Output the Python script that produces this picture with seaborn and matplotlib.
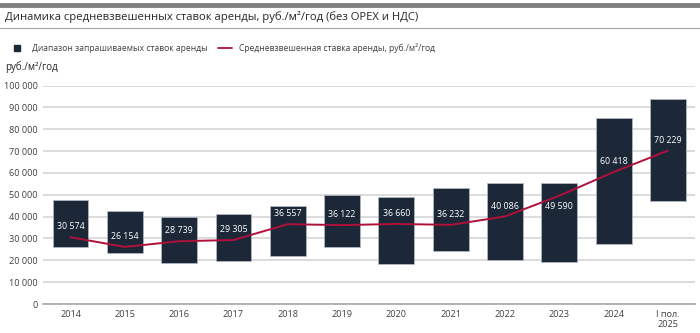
import matplotlib
matplotlib.use("Agg")
import matplotlib.pyplot as plt
import seaborn as sns
import pandas as pd
from matplotlib.lines import Line2D
from matplotlib.ticker import FuncFormatter

categories = ["2014", "2015", "2016", "2017", "2018", "2019", "2020", "2021",
              "2022", "2023", "2024", "I пол.\n2025"]
range_low = [26000, 23300, 19000, 19600, 21900, 26100, 18300, 24100, 20100, 19200, 27500, 47200]
range_high = [47400, 42600, 40000, 41400, 45100, 49700, 49100, 53100, 55200, 55200, 85100, 93800]
weighted_avg = [30574, 26154, 28739, 29305, 36557, 36122, 36660, 36232, 40086, 49590, 60418, 70229]
title = "Динамика средневзвешенных ставок аренды, руб./м²/год (без OPEX и НДС)"
legend_range = "Диапазон запрашиваемых ставок аренды"
legend_line = "Средневзвешенная ставка аренды, руб./м²/год"
y_unit = "руб./м²/год"

BAR = "#1c2838"
LINE = "#b0103a"
GRID = "#d9d9d9"
TXT = "#404040"

sns.set_theme(style="white")
plt.rcParams["font.family"] = ["Open Sans", "DejaVu Sans"]

df = pd.DataFrame({
    "cat": categories,
    "low": range_low,
    "span": [h - l for h, l in zip(range_high, range_low)],
    "avg": weighted_avg,
})

fig = plt.figure(figsize=(7, 3.33), dpi=100)
ax = fig.add_axes([0.062, 0.087, 0.931, 0.656])

ax.set_axisbelow(True)
ax.yaxis.grid(True, color=GRID, lw=1.3)
sns.barplot(data=df, x="cat", y="span", bottom=df["low"], color=BAR,
            saturation=1, width=0.66, edgecolor="#b8bec8", linewidth=0.5, ax=ax, zorder=2)
sns.lineplot(x=list(range(len(categories))), y=df["avg"], color=LINE, lw=1.4,
             ax=ax, zorder=3, sort=False)

for i, v in enumerate(weighted_avg):
    off = -7.5 if categories[i] == "2023" else 7.5
    ax.annotate(f"{v:,}".replace(",", " "), (i, v), xytext=(0, off),
                textcoords="offset points", ha="center", va="center",
                color="white", fontsize=6.4, zorder=4)

ax.set_ylim(0, 100000)
ax.set_xlim(-0.5, len(categories) - 0.5)
ax.set_yticks(range(0, 100001, 10000))
ax.yaxis.set_major_formatter(FuncFormatter(lambda v, p: f"{int(v):,}".replace(",", " ")))
ax.set_xlabel("")
ax.set_ylabel("")
for s in ["top", "right", "left"]:
    ax.spines[s].set_visible(False)
ax.spines["bottom"].set_color("#a6a6a6")
ax.spines["bottom"].set_linewidth(1.2)
ax.tick_params(axis="both", length=0, labelsize=6.6, colors=TXT, pad=4)
ax.tick_params(axis="y", pad=4)
ax.get_legend() and ax.get_legend().remove()

# header decoration
fig.add_artist(Line2D([0, 1], [1 - 5 / 333, 1 - 5 / 333], color="#808080", lw=3.5, transform=fig.transFigure))
fig.add_artist(Line2D([0, 1], [1 - 28 / 333, 1 - 28 / 333], color="#a6a6a6", lw=0.8, transform=fig.transFigure))
fig.text(5 / 700, 1 - 17 / 333, title, fontsize=8.1, color="#262626", va="center", ha="left")
fig.text(5 / 700, 1 - 67 / 333, y_unit, fontsize=7, color="#262626", va="center", ha="left")

handles = [Line2D([], [], marker="s", ls="", markersize=5, color=BAR),
           Line2D([], [], color=LINE, lw=1.3)]
fig.legend(handles, [legend_range, legend_line], loc="center left",
           bbox_to_anchor=(0.004, 1 - 48 / 333), ncol=2, frameon=False, fontsize=6.15,
           handlelength=1.6, columnspacing=1.2, handletextpad=0.9,
           labelcolor="#404040")

fig.savefig("out.png", dpi=100)
